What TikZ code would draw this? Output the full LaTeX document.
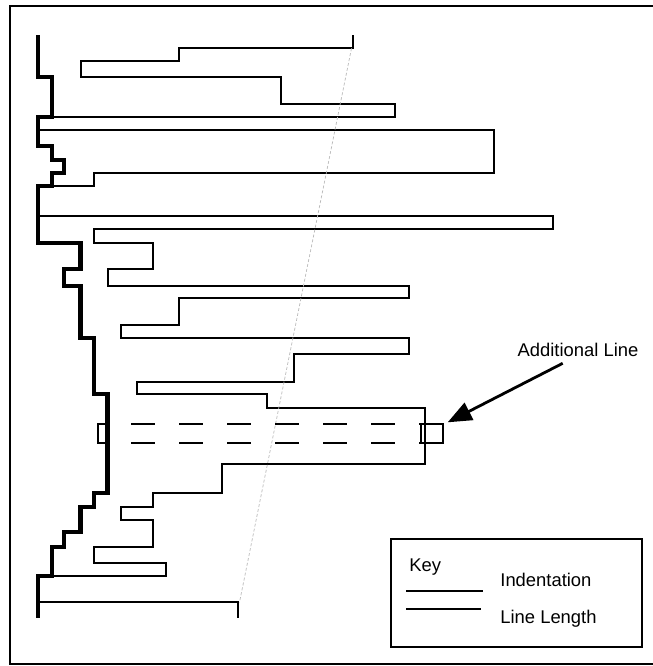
\documentclass[tikz,border=0pt]{standalone}
\usepackage{fontspec}
\setmainfont{Liberation Sans}
\usetikzlibrary{arrows.meta}
\tikzset{
  indentrun/.style={
    line width=2.1pt
  },
  lengthrun/.style={
    line width=1pt
  },
  slope/.style={
    gray!55,
    line width=0.35pt,
    dash pattern=on 1.5pt off 1pt
  },
  newline/.style={
    line width=1pt,
    dash pattern=on 12pt off 12pt
  },
  keytext/.style={
    font=\fontsize{9.2}{11}\selectfont,
    inner sep=0pt
  },
  keybox/.style={
    draw,
    line width=1pt,
    minimum width=125.8pt,
    minimum height=53.85pt,
    inner sep=0pt
  },
  pointer/.style={
    -{Triangle[length=12pt,width=9.5pt]},
    line width=1.4pt
  }
}

\begin{document}
\begin{tikzpicture}[x=0.5pt, y=-0.5pt]

\useasboundingbox (0,0) rectangle (653,666);
\clip (0,0) rectangle (653,666);
\draw[line width=1pt] (9.5,6) rectangle (700,664);

% line lengths
\draw[lengthrun] (352.7,35) |- (179.3,48.3) |- (80.5,61) |- (280.7,77.3)
  |- (395,104) |- (37.7,116.7) |- (494,130.3) |- (94.2,173.3) |- (37.7,185.7)
  |- (552.7,216) |- (94.2,229.3) |- (152.7,242.7) |- (107.5,269)
  |- (408.7,285.7) |- (179.3,298.3) |- (120.7,325) |- (408.7,338)
  |- (294,354.3) |- (136.7,381.7) |- (267.3,394.3) |- (425,407.7)
  |- (221.7,464.3) |- (152.7,493.3) |- (120.7,506.7) |- (152.7,520)
  |- (94.2,546.7) |- (166,562.7) |- (37.7,576) |- (238.3,602.3) -- (238.3,618.3);

% indentation
\draw[indentrun] (37.7,35) |- (51.7,77.3) |- (37.7,116.7) |- (51.7,145.7)
  |- (64.3,160) |- (51.7,173.3) |- (37.7,185.7) |- (80.5,242.7) |- (64.3,269)
  |- (80.5,285.7) |- (94.2,338) |- (107.5,394.3) |- (94.2,493.3) |- (80.5,506.7)
  |- (64.3,532.3) |- (51.7,546.7) |- (37.7,576) -- (37.7,618.3);

\draw[slope] (351.5,48.3) -- (239.5,602.3);

% inserted line
\draw[newline] (131,424.3) -- (443,424.3);
\draw[newline] (131,442.7) -- (443,442.7);
\draw[lengthrun] (97.5,424.3) rectangle (107.5,442.7);
\draw[lengthrun] (421,424.3) rectangle (443,442.7);
\coordinate (tip) at (447.7,422.3);

\node[keytext, inner sep=3pt, anchor=south] (addlabel) at (578,363.3) {Additional Line};
\draw[pointer] ([xshift=-7.65pt]addlabel.south) -- (tip);

% key
\node[keybox] (key) at (516.5,593.15) {};
\node[keytext, anchor=base west] (keytitle) at (409,571.7) {Key};
\node[keytext, anchor=base west] (keyindent) at (500,586.7) {Indentation};
\node[keytext, anchor=base west] (keylength) at (500,623.3) {Line Length};
\draw[line width=1pt] (406,591) -- (483.3,591);
\draw[line width=1pt] (406,609.3) -- (480.7,609.3);

\end{tikzpicture}
\end{document}
